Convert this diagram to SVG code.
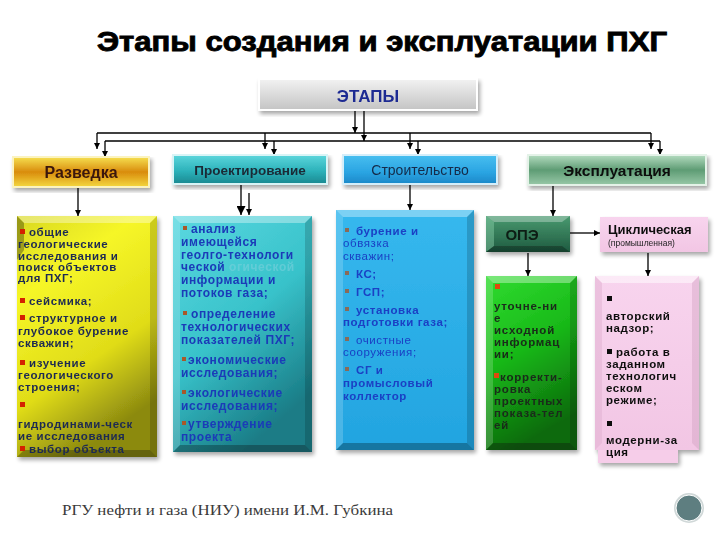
<svg xmlns="http://www.w3.org/2000/svg" width="720" height="540" viewBox="0 0 720 540">
<defs>
<style>
.t{font-family:"Liberation Sans",Arial,sans-serif;font-weight:bold}
.ln{stroke:#000;stroke-width:1.3;fill:none}
.bt{fill:#fff;opacity:.35}
.bl{fill:#fff;opacity:.18}
.bb{fill:#000;opacity:.28}
.br{fill:#000;opacity:.16}
.y{font-size:11.5px;letter-spacing:.6px;fill:#1e2a52}
.tq{font-size:12px;letter-spacing:.6px;fill:#1a3ab8}
.bu{font-size:11.5px;letter-spacing:.6px;fill:#1a3fc4}
.g{font-size:11.5px;letter-spacing:.8px;fill:#1a2a1a}
.p{font-size:11.5px;letter-spacing:.6px;fill:#111}
</style>
<marker id="ah" viewBox="0 0 10 10" refX="10" refY="5" markerWidth="6" markerHeight="6" markerUnits="userSpaceOnUse" orient="auto"><path d="M0,0 L10,5 L0,10 z" fill="#000"/></marker>
<marker id="ahb" viewBox="0 0 10 10" refX="10" refY="5" markerWidth="9" markerHeight="9" markerUnits="userSpaceOnUse" orient="auto"><path d="M0,0 L10,5 L0,10 z" fill="#000"/></marker>
<filter id="sh" x="-10%" y="-10%" width="130%" height="130%"><feGaussianBlur in="SourceAlpha" stdDeviation="2"/><feOffset dx="2" dy="3"/><feComponentTransfer><feFuncA type="linear" slope="0.35"/></feComponentTransfer><feMerge><feMergeNode/><feMergeNode in="SourceGraphic"/></feMerge></filter>
<linearGradient id="gGray" x1="0" y1="0" x2="0" y2="1"><stop offset="0" stop-color="#f2f2f2"/><stop offset="1" stop-color="#c4c4c4"/></linearGradient>
<linearGradient id="gRaz" x1="0" y1="0" x2="0" y2="1"><stop offset="0" stop-color="#f6e050"/><stop offset="0.5" stop-color="#d98c0c"/><stop offset="1" stop-color="#f4d840"/></linearGradient>
<linearGradient id="gPro" x1="0" y1="0" x2="0" y2="1"><stop offset="0" stop-color="#5cd6dc"/><stop offset="0.55" stop-color="#2cb2ba"/><stop offset="1" stop-color="#1a8890"/></linearGradient>
<linearGradient id="gStr" x1="0" y1="0" x2="0" y2="1"><stop offset="0" stop-color="#48bff0"/><stop offset="0.6" stop-color="#2aa4e2"/><stop offset="1" stop-color="#1c88c8"/></linearGradient>
<linearGradient id="gEks" x1="0" y1="0" x2="0" y2="1"><stop offset="0" stop-color="#b4dcc0"/><stop offset="0.5" stop-color="#5e9c74"/><stop offset="1" stop-color="#98c8a8"/></linearGradient>
<linearGradient id="gYel" x1="0" y1="0" x2="0.4" y2="1"><stop offset="0" stop-color="#d8d820"/><stop offset="0.3" stop-color="#f6f628"/><stop offset="0.7" stop-color="#e0dc18"/><stop offset="1" stop-color="#8c8a10"/></linearGradient>
<linearGradient id="gTeal" x1="0" y1="0" x2="0.5" y2="1"><stop offset="0" stop-color="#5ad8e0"/><stop offset="0.55" stop-color="#38c2ca"/><stop offset="1" stop-color="#1a7c86"/></linearGradient>
<linearGradient id="gBlue" x1="0" y1="0" x2="0" y2="1"><stop offset="0" stop-color="#36b8ee"/><stop offset="1" stop-color="#22a4e0"/></linearGradient>
<linearGradient id="gOpe" x1="0" y1="0" x2="0" y2="1"><stop offset="0" stop-color="#4a9a70"/><stop offset="1" stop-color="#1e5a40"/></linearGradient>
<linearGradient id="gGrn" x1="0" y1="0" x2="0.3" y2="1"><stop offset="0" stop-color="#30dc30"/><stop offset="0.5" stop-color="#18b818"/><stop offset="1" stop-color="#0c6a0c"/></linearGradient>
<linearGradient id="gPink" x1="0" y1="0" x2="0" y2="1"><stop offset="0" stop-color="#f8d4ee"/><stop offset="1" stop-color="#f2c6e4"/></linearGradient>
</defs>
<rect width="720" height="540" fill="#fff"/>

<g id="title">
<text class="t" x="97" y="51" font-size="28" textLength="570" lengthAdjust="spacingAndGlyphs" fill="#000" stroke="#000" stroke-width="0.9">Этапы создания и эксплуатации ПХГ</text>
</g>

<g id="etapy" filter="url(#sh)">
<rect x="259" y="79" width="218" height="31" fill="url(#gGray)" stroke="#fff" stroke-width="2"/>
<text class="t" x="368" y="102" font-size="17" text-anchor="middle" fill="#1e2a92">ЭТАПЫ</text>
</g>

<g id="connectors">
<path class="ln" d="M355,111 V133" marker-end="url(#ah)"/>
<path class="ln" d="M364,111 V141" marker-end="url(#ah)"/>
<path class="ln" d="M97,133 H651"/>
<path class="ln" d="M105,141 H660"/>
<path class="ln" d="M97,133 V149" marker-end="url(#ah)"/>
<path class="ln" d="M265,133 V149" marker-end="url(#ah)"/>
<path class="ln" d="M410,133 V149" marker-end="url(#ah)"/>
<path class="ln" d="M651,133 V149" marker-end="url(#ah)"/>
<path class="ln" d="M105,141 V157" marker-end="url(#ah)"/>
<path class="ln" d="M274,141 V155" marker-end="url(#ah)"/>
<path class="ln" d="M418,141 V155" marker-end="url(#ah)"/>
<path class="ln" d="M660,141 V155" marker-end="url(#ah)"/>
<path class="ln" d="M78,188 V216" marker-end="url(#ah)"/>
<path class="ln" d="M241,185 V215" marker-end="url(#ahb)"/>
<path class="ln" stroke-width="1" d="M249,193 V215" marker-end="url(#ah)"/>
<path class="ln" d="M410,185 V210" marker-end="url(#ah)"/>
<path class="ln" d="M553,186 V216" marker-end="url(#ah)"/>
<path class="ln" d="M570,233 H600" marker-end="url(#ah)"/>
<path class="ln" d="M528,253 V276" marker-end="url(#ah)"/>
<path class="ln" d="M648,253 V276" marker-end="url(#ah)"/>
</g>

<g id="razvedka" filter="url(#sh)">
<rect x="13" y="157" width="136" height="30" fill="url(#gRaz)" stroke="#fbf3c0" stroke-width="2"/>
<text class="t" x="81" y="178" font-size="16" text-anchor="middle" fill="#3a1808">Разведка</text>
</g>
<g id="proekt" filter="url(#sh)">
<rect x="173" y="155" width="154" height="29" fill="url(#gPro)" stroke="#d8f4f6" stroke-width="2"/>
<text class="t" x="250" y="175" font-size="13.5" text-anchor="middle" fill="#1a2a36">Проектирование</text>
</g>
<g id="stroit" filter="url(#sh)">
<rect x="343" y="155" width="154" height="29" fill="url(#gStr)" stroke="#d4eefa" stroke-width="2"/>
<text x="420" y="175" font-family="Liberation Sans, Arial, sans-serif" font-size="14" text-anchor="middle" fill="#142a48">Строительство</text>
</g>
<g id="ekspl" filter="url(#sh)">
<rect x="528" y="155" width="178" height="30" fill="url(#gEks)" stroke="#e4f2e8" stroke-width="2"/>
<text class="t" x="617" y="176" font-size="15.5" text-anchor="middle" fill="#0c0c0c">Эксплуатация</text>
</g>

<g id="razvedka-list" filter="url(#sh)">
<rect x="17" y="216" width="140" height="241" fill="url(#gYel)"/>
<polygon class="bt" points="17,216 157,216 150,223 24,223"/>
<polygon points="17,216 24,223 24,250 17,260" fill="#4a4a10" opacity=".45"/>
<polygon class="bb" points="17,457 157,457 150,450 24,450"/>
<polygon class="br" points="157,216 157,457 150,450 150,223"/>
<g fill="#d42000"><rect x="20" y="229" width="5" height="5"/><rect x="20" y="298" width="5" height="5"/><rect x="20" y="315" width="5" height="5"/><rect x="20" y="360" width="5" height="5"/><rect x="20" y="402" width="5" height="5"/><rect x="20" y="446" width="5" height="5"/></g>
<text class="t y" x="29" y="236">общие</text>
<text class="t y" x="18" y="248">геологические</text>
<text class="t y" x="18" y="260">исследования и</text>
<text class="t y" x="18" y="271">поиск объектов</text>
<text class="t y" x="18" y="282">для ПХГ;</text>
<text class="t y" x="29" y="305">сейсмика;</text>
<text class="t y" x="29" y="322">структурное и</text>
<text class="t y" x="18" y="335">глубокое бурение</text>
<text class="t y" x="18" y="347">скважин;</text>
<text class="t y" x="29" y="367">изучение</text>
<text class="t y" x="18" y="379">геологического</text>
<text class="t y" x="18" y="391">строения;</text>
<text class="t y" x="18" y="428">гидродинами-ческ</text>
<text class="t y" x="18" y="440">ие исследования</text>
<text class="t y" x="29" y="453">выбор объекта</text>
</g>

<g id="proekt-list" filter="url(#sh)">
<rect x="173" y="216" width="139" height="236" fill="url(#gTeal)"/>
<polygon class="bt" points="173,216 312,216 305,223 180,223"/>
<polygon class="bl" points="173,216 180,223 180,445 173,452"/>
<polygon class="bb" points="173,452 312,452 305,445 180,445"/>
<polygon class="br" points="312,216 312,452 305,445 305,223"/>
<g fill="#a8582a"><rect x="183" y="226" width="4" height="4"/><rect x="183" y="311" width="4" height="4"/><rect x="182" y="357" width="4" height="4"/><rect x="182" y="390" width="4" height="4"/><rect x="182" y="421" width="4" height="4"/></g>
<text class="t" x="229" y="271" font-size="12" letter-spacing=".6" fill="#7ad0dc" opacity=".6">огической</text>
<text class="t tq" x="191" y="233">анализ</text>
<text class="t tq" x="181" y="246">имеющейся</text>
<text class="t tq" x="181" y="259">геолго-технологи</text>
<text class="t tq" x="181" y="271">ческой</text>
<text class="t tq" x="181" y="284">информации и</text>
<text class="t tq" x="181" y="297">потоков газа;</text>
<text class="t tq" x="191" y="318">определение</text>
<text class="t tq" x="181" y="331">технологических</text>
<text class="t tq" x="181" y="344">показателей ПХГ;</text>
<text class="t tq" x="188" y="364">экономические</text>
<text class="t tq" x="181" y="377">исследования;</text>
<text class="t tq" x="188" y="397">экологические</text>
<text class="t tq" x="181" y="410">исследования;</text>
<text class="t tq" x="188" y="428">утверждение</text>
<text class="t tq" x="181" y="441">проекта</text>
</g>

<g id="stroit-list" filter="url(#sh)">
<rect x="336" y="210" width="138" height="240" fill="url(#gBlue)"/>
<polygon class="bt" points="336,210 474,210 467,217 343,217"/>
<polygon class="bl" points="336,210 343,217 343,443 336,450"/>
<polygon class="bb" points="336,450 474,450 467,443 343,443"/>
<polygon class="br" points="474,210 474,450 467,443 467,217"/>
<g fill="#8a6a58"><rect x="345" y="228" width="4" height="4"/><rect x="345" y="271" width="4" height="4"/><rect x="345" y="289" width="4" height="4"/><rect x="345" y="307" width="4" height="4"/><rect x="345" y="337" width="4" height="4"/><rect x="345" y="367" width="4" height="4"/></g>
<text class="t bu" x="356" y="235">бурение и</text>
<text class="bu" x="343" y="247" font-family="Liberation Sans, Arial, sans-serif">обвязка</text>
<text class="bu" x="343" y="260" font-family="Liberation Sans, Arial, sans-serif">скважин;</text>
<text class="t bu" x="356" y="278">КС;</text>
<text class="t bu" x="356" y="296">ГСП;</text>
<text class="t bu" x="356" y="314">установка</text>
<text class="t bu" x="343" y="326">подготовки газа;</text>
<text class="bu" x="356" y="344" font-family="Liberation Sans, Arial, sans-serif">очистные</text>
<text class="bu" x="343" y="356" font-family="Liberation Sans, Arial, sans-serif">сооружения;</text>
<text class="t bu" x="356" y="374">СГ и</text>
<text class="t bu" x="343" y="387">промысловый</text>
<text class="t bu" x="343" y="400">коллектор</text>
</g>

<g id="ope" filter="url(#sh)">
<rect x="486" y="216" width="84" height="36" fill="url(#gOpe)"/>
<polygon points="486,216 570,216 562,222 494,222" fill="#fff" opacity=".3"/>
<polygon points="486,216 494,222 494,246 486,252" fill="#8ad0a8" opacity=".45"/>
<polygon class="bb" points="486,252 570,252 562,246 494,246"/>
<text class="t" x="522" y="240" font-size="15" text-anchor="middle" fill="#0e1e12">ОПЭ</text>
</g>

<g id="cycl" filter="url(#sh)">
<rect x="600" y="217" width="108" height="35" fill="url(#gPink)"/>
<text class="t" x="608" y="234" font-size="13" fill="#111">Циклическая</text>
<text x="608" y="246" font-family="Liberation Sans, Arial, sans-serif" font-size="8.5" fill="#222">(промышленная)</text>
</g>

<g id="ope-list" filter="url(#sh)">
<rect x="486" y="276" width="91" height="174" fill="url(#gGrn)"/>
<polygon class="bt" points="486,276 577,276 570,283 493,283"/>
<polygon class="bl" points="486,276 493,283 493,443 486,450"/>
<polygon class="bb" points="486,450 577,450 570,443 493,443"/>
<polygon class="br" points="577,276 577,450 570,443 570,283"/>
<g fill="#e04a10"><rect x="495" y="284" width="5" height="5"/><rect x="494" y="373" width="5" height="5"/></g>
<text class="t g" x="494" y="310">уточне-ни</text>
<text class="t g" x="494" y="322">е</text>
<text class="t g" x="494" y="334">исходной</text>
<text class="t g" x="494" y="346">информац</text>
<text class="t g" x="494" y="358">ии;</text>
<text class="t g" x="500" y="381">корректи-</text>
<text class="t g" x="494" y="393">ровка</text>
<text class="t g" x="494" y="405">проектных</text>
<text class="t g" x="494" y="417">показа-тел</text>
<text class="t g" x="494" y="429">ей</text>
</g>

<g id="cycl-list" filter="url(#sh)">
<rect x="598" y="446" width="80" height="17" fill="#f6cde9"/>
<rect x="595" y="276" width="104" height="174" fill="url(#gPink)"/>
<polygon points="595,276 699,276 692,283 602,283" fill="#fff" opacity=".5"/>
<polygon points="595,276 602,283 602,443 595,450" fill="#e0b0d0" opacity=".5"/>
<polygon points="699,276 699,450 692,443 692,283" fill="#c898b8" opacity=".35"/>
<g fill="#111"><rect x="607" y="296" width="5" height="5"/><rect x="607" y="349" width="5" height="5"/><rect x="607" y="421" width="5" height="5"/></g>
<text class="t p" x="606" y="320">авторский</text>
<text class="t p" x="606" y="332">надзор;</text>
<text class="t p" x="616" y="356">работа в</text>
<text class="t p" x="606" y="368">заданном</text>
<text class="t p" x="606" y="380">технологич</text>
<text class="t p" x="606" y="392">еском</text>
<text class="t p" x="606" y="404">режиме;</text>
<text class="t p" x="606" y="444">модерни-за</text>
<text class="t p" x="606" y="456">ция</text>
</g>

<g id="footer">
<text x="62" y="515" font-family="Liberation Serif, 'Times New Roman', serif" font-size="15" fill="#3a3a3a" textLength="331" lengthAdjust="spacingAndGlyphs">РГУ нефти и газа (НИУ) имени И.М. Губкина</text>
<circle cx="689" cy="508" r="15" fill="#d0d8d8"/>
<circle cx="689" cy="508" r="13" fill="#5e7e80" stroke="#fff" stroke-width="1"/>
</g>
</svg>
